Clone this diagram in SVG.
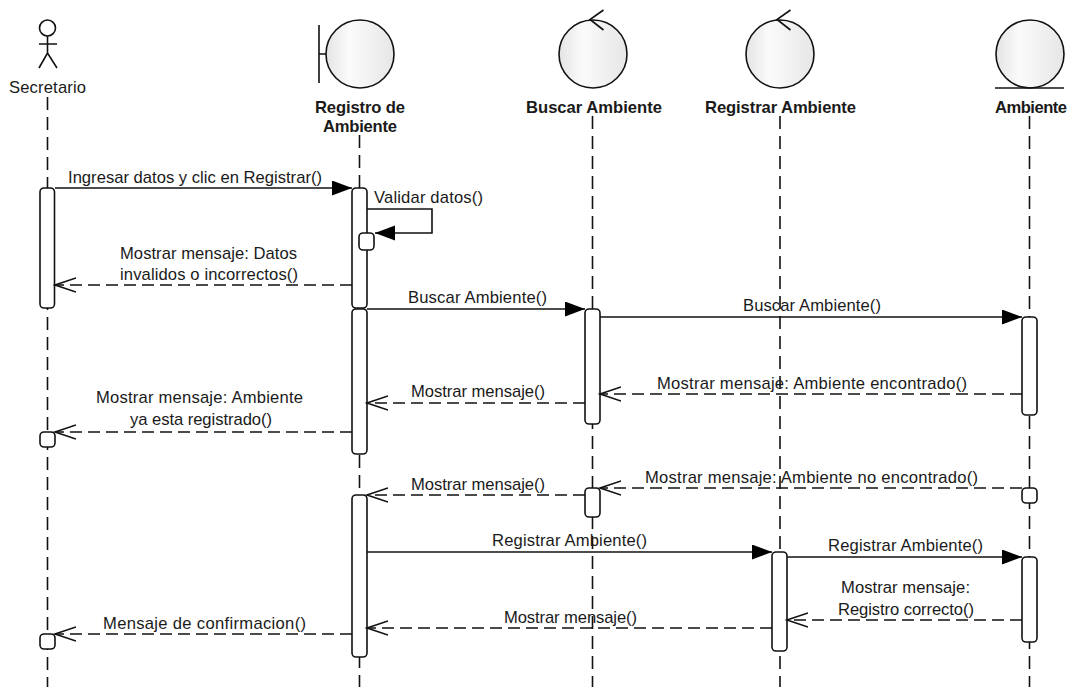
<svg xmlns="http://www.w3.org/2000/svg" width="1078" height="687" viewBox="0 0 1078 687">
<style>
text{font-family:"Liberation Sans",Arial,sans-serif;font-size:16.6px;fill:#1a1a1a;text-anchor:middle}
.b{font-weight:bold}
.ll{stroke:#111;stroke-width:1.6;stroke-dasharray:13 7;fill:none}
.act{fill:#fff;stroke:#111;stroke-width:1.6}
.c{fill:url(#g);stroke:#111;stroke-width:1.6}
.s{stroke:#111;stroke-width:1.6;fill:none}
.m{stroke:#111;stroke-width:1.6;fill:none;marker-end:url(#fa)}
.r{stroke:#111;stroke-width:1.6;fill:none;stroke-dasharray:12 6;marker-end:url(#oa)}
</style>
<defs>
<linearGradient id="g" x1="0" x2="1" y1="0" y2="0"><stop offset="0" stop-color="#e4e4e4"/><stop offset=".35" stop-color="#fbfbfb"/><stop offset="1" stop-color="#e6e6e6"/></linearGradient>
<marker id="fa" markerUnits="userSpaceOnUse" markerWidth="22" markerHeight="16" refX="20" refY="7.500" orient="auto"><path d="M0 0L20 7.500L0 15z" fill="#000"/></marker>
<marker id="oa" markerUnits="userSpaceOnUse" markerWidth="24" markerHeight="18" refX="21" refY="8" orient="auto"><path d="M0 1L21 8L0 15" fill="none" stroke="#111" stroke-width="1.6" stroke-dasharray="none"/></marker>
</defs>
<g id="lifelines">
<path class="ll" d="M47.500 97V687"/>
<path class="ll" d="M359.500 135V687"/>
<path class="ll" d="M592.500 116V687"/>
<path class="ll" d="M780 116V687"/>
<path class="ll" d="M1029.500 116V687"/>
</g>
<g id="secretario">
<circle cx="47.500" cy="28" r="8" fill="#fff" stroke="#111" stroke-width="1.6"/>
<path class="s" d="M47.500 36V53M39 44H57M39 68L47.500 53L57 68"/>
<text x="47.500" y="93" textLength="77">Secretario</text>
<rect class="act" x="40" y="188" width="14.500" height="120" rx="4"/>
<rect class="act" x="40" y="432" width="15" height="15" rx="4"/>
<rect class="act" x="40" y="634" width="15" height="15" rx="4"/>
</g>
<g id="registro-de-ambiente">
<path class="s" d="M319 25V83M319 54H326"/>
<circle class="c" cx="360" cy="54" r="34"/>
<text class="b" x="360" y="113" textLength="90">Registro de</text>
<text class="b" x="360" y="132" textLength="74">Ambiente</text>
<rect class="act" x="352" y="188" width="15" height="120" rx="4"/>
<rect class="act" x="352" y="309" width="15" height="145" rx="4"/>
<rect class="act" x="352" y="495" width="15" height="162" rx="4"/>
<rect class="act" x="359" y="233" width="15" height="17" rx="4"/>
</g>
<g id="buscar-ambiente">
<circle class="c" cx="593" cy="54" r="34"/>
<path class="s" d="M603.500 10L590 19.500L603.500 30"/>
<text class="b" x="594" y="113" textLength="136">Buscar Ambiente</text>
<rect class="act" x="585" y="309" width="15" height="115" rx="4"/>
<rect class="act" x="585" y="488" width="15" height="29" rx="4"/>
</g>
<g id="registrar-ambiente">
<circle class="c" cx="780" cy="54" r="34"/>
<path class="s" d="M790.500 10L777 19.500L790.500 30"/>
<text class="b" x="780.500" y="113" textLength="151">Registrar Ambiente</text>
<rect class="act" x="772" y="552" width="15" height="99" rx="4"/>
</g>
<g id="ambiente">
<circle class="c" cx="1030" cy="54" r="34"/>
<path class="s" d="M995 88H1064"/>
<text class="b" x="1031" y="113" textLength="72">Ambiente</text>
<rect class="act" x="1022" y="317" width="15" height="98" rx="4"/>
<rect class="act" x="1022" y="488" width="15" height="15" rx="4"/>
<rect class="act" x="1022" y="557" width="15" height="85" rx="4"/>
</g>
<g id="connectors">
<path class="m" d="M55 188H352"/>
<path class="m" d="M367 209H432V233H375"/>
<path class="r" d="M352 285H55"/>
<path class="m" d="M367 309H585"/>
<path class="m" d="M600 317H1022"/>
<path class="r" d="M1022 394H600"/>
<path class="r" d="M585 403H367"/>
<path class="r" d="M352 432H55"/>
<path class="r" d="M1022 488H600"/>
<path class="r" d="M585 495H367"/>
<path class="m" d="M367 552H772"/>
<path class="m" d="M787 557H1022"/>
<path class="r" d="M1022 620H787"/>
<path class="r" d="M772 628H367"/>
<path class="r" d="M352 634H55"/>
</g>
<g id="labels">
<text x="195" y="183" textLength="254">Ingresar datos y clic en Registrar()</text>
<text x="428.500" y="203" textLength="109">Validar datos()</text>
<text x="208.500" y="259" textLength="177">Mostrar mensaje: Datos</text>
<text x="209" y="280" textLength="178">invalidos o incorrectos()</text>
<text x="477.500" y="303" textLength="139">Buscar Ambiente()</text>
<text x="812" y="311" textLength="138">Buscar Ambiente()</text>
<text x="812" y="389" textLength="310">Mostrar mensaje: Ambiente encontrado()</text>
<text x="478" y="397" textLength="134">Mostrar mensaje()</text>
<text x="199.500" y="403" textLength="207">Mostrar mensaje: Ambiente</text>
<text x="201" y="425" textLength="142">ya esta registrado()</text>
<text x="811.500" y="483" textLength="333">Mostrar mensaje: Ambiente no encontrado()</text>
<text x="478" y="490" textLength="134">Mostrar mensaje()</text>
<text x="569.500" y="546" textLength="155">Registrar Ambiente()</text>
<text x="905.500" y="551" textLength="155">Registrar Ambiente()</text>
<text x="905.500" y="593" textLength="129">Mostrar mensaje:</text>
<text x="906" y="615" textLength="136">Registro correcto()</text>
<text x="570.500" y="623" textLength="133">Mostrar mensaje()</text>
<text x="204.500" y="629" textLength="203">Mensaje de confirmacion()</text>
</g>
</svg>
